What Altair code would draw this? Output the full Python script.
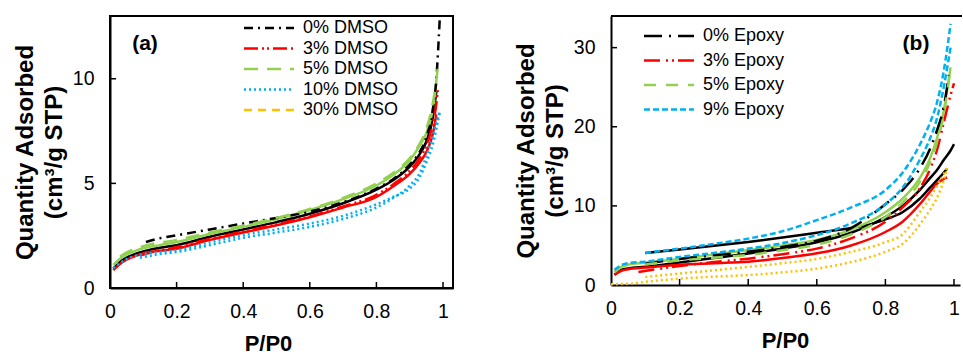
import altair as alt
import pandas as pd

FONT = "Liberation Sans"

# ---------------- Panel (a): DMSO ----------------
series_a = ["0% DMSO", "3% DMSO", "5% DMSO", "10% DMSO", "30% DMSO"]
colors_a = ["#000000", "#FF0000", "#92D050", "#00B0F0", "#FFC000"]
dashes_a = [[9, 5, 2, 5], [14, 4, 2, 3, 2, 4], [14, 9], [2, 3], [8, 6]]

ads_x_a = [0.01, 0.03, 0.05, 0.08, 0.1, 0.15, 0.2, 0.3, 0.4, 0.5, 0.6, 0.7, 0.8, 0.85, 0.9, 0.93, 0.95, 0.97, 0.98]
a0_ads = [0.93, 1.25, 1.45, 1.65, 1.75, 1.92, 2.05, 2.45, 2.8, 3.15, 3.55, 4.05, 4.7, 5.15, 5.8, 6.4, 7.0, 8.2, 9.4]
a3_ads = [0.85, 1.15, 1.35, 1.55, 1.65, 1.78, 1.88, 2.3, 2.65, 3.0, 3.38, 3.85, 4.35, 4.85, 5.45, 6.0, 6.5, 7.4, 8.3]
a5_ads = [1.1, 1.4, 1.6, 1.8, 1.9, 2.05, 2.2, 2.58, 2.92, 3.3, 3.73, 4.25, 4.9, 5.4, 6.1, 6.8, 7.4, 8.6, 9.8]
a10_ads_x = ads_x_a + [0.99]
a10_ads = [0.95, 1.2, 1.38, 1.55, 1.62, 1.72, 1.8, 2.18, 2.53, 2.8, 3.08, 3.45, 4.0, 4.35, 4.75, 5.3, 6.0, 6.9, 7.6, 8.4]

a0_des_x = [0.108, 0.15, 0.2, 0.3, 0.4, 0.5, 0.6, 0.7, 0.8, 0.85, 0.9, 0.93, 0.95, 0.97, 0.98, 0.99]
a0_des = [2.2, 2.38, 2.52, 2.8, 3.08, 3.35, 3.65, 4.1, 4.75, 5.2, 5.9, 6.5, 7.2, 8.6, 10.0, 12.8]
a3_des_x = [0.09, 0.15, 0.2, 0.3, 0.4, 0.5, 0.6, 0.7, 0.8, 0.85, 0.9, 0.93, 0.95, 0.97, 0.98, 0.985]
a3_des = [1.55, 1.8, 1.95, 2.35, 2.7, 3.05, 3.42, 3.9, 4.45, 4.95, 5.6, 6.2, 6.8, 7.9, 8.8, 9.6]
a5_des_x = [0.03, 0.05, 0.1, 0.2, 0.3, 0.4, 0.5, 0.6, 0.7, 0.8, 0.85, 0.9, 0.93, 0.95, 0.97, 0.98, 0.985]
a5_des = [1.5, 1.7, 2.0, 2.3, 2.65, 2.98, 3.35, 3.78, 4.3, 5.0, 5.5, 6.2, 6.9, 7.6, 8.9, 9.9, 10.7]
a10_des_x = [0.09, 0.15, 0.2, 0.3, 0.4, 0.5, 0.6, 0.7, 0.8, 0.85, 0.9, 0.93, 0.95, 0.97, 0.98, 0.99]
a10_des = [1.45, 1.62, 1.72, 2.05, 2.4, 2.65, 2.92, 3.3, 3.85, 4.3, 4.9, 5.5, 6.3, 7.3, 7.9, 8.4]

# ---------------- Panel (b): Epoxy ----------------
series_b = ["0% Epoxy", "3% Epoxy", "5% Epoxy", "9% Epoxy"]
colors_b = ["#000000", "#FF0000", "#92D050", "#00B0F0"]
dashes_b = [[18, 7, 2, 7], [16, 6, 2, 4, 2, 4], [12, 10], [6, 3]]
orange_b = "#FFC000"

b0_a_x = [0.1, 0.2, 0.3, 0.4, 0.5, 0.6, 0.7, 0.75, 0.8, 0.85, 0.9, 0.93, 0.96, 0.98]
b0_a = [4.05, 4.5, 4.95, 5.44, 6.0, 6.6, 7.2, 7.6, 8.3, 9.2, 10.9, 12.3, 13.7, 14.7]
b0_b_x = [0.01, 0.03, 0.05, 0.1, 0.2, 0.3, 0.4, 0.5, 0.6, 0.7, 0.8, 0.85, 0.9, 0.93, 0.95, 0.97, 0.99, 1.0]
b0_b = [1.3, 1.9, 2.1, 2.3, 2.85, 3.4, 3.97, 4.6, 5.4, 6.6, 8.6, 10.0, 12.0, 13.5, 14.5, 15.8, 17.0, 17.8]
b0_c_x = [0.1, 0.2, 0.3, 0.4, 0.5, 0.6, 0.7, 0.8, 0.85, 0.9, 0.93, 0.95, 0.97, 0.985]
b0_c = [2.7, 3.3, 3.75, 4.2, 4.8, 5.6, 7.2, 10.2, 12.0, 14.7, 17.2, 19.5, 22.5, 26.5]

b3_ads_x = [0.01, 0.03, 0.05, 0.1, 0.2, 0.3, 0.4, 0.5, 0.6, 0.7, 0.8, 0.85, 0.9, 0.93, 0.95, 0.97, 0.98]
b3_ads = [1.3, 1.8, 2.0, 2.2, 2.55, 2.75, 2.95, 3.4, 4.0, 5.0, 6.7, 8.0, 10.2, 11.8, 12.8, 13.4, 13.6]
b3_des_x = [0.08, 0.15, 0.2, 0.3, 0.4, 0.5, 0.6, 0.7, 0.8, 0.85, 0.9, 0.93, 0.95, 0.97, 0.99, 1.0]
b3_des = [1.65, 2.1, 2.4, 2.9, 3.33, 3.9, 4.6, 5.9, 8.0, 9.8, 12.2, 14.6, 17.0, 20.5, 24.0, 25.5]

b5_ads_x = [0.01, 0.03, 0.05, 0.1, 0.2, 0.3, 0.4, 0.5, 0.6, 0.7, 0.8, 0.85, 0.9, 0.93, 0.95, 0.97, 0.99]
b5_ads = [1.6, 2.3, 2.55, 2.8, 3.3, 3.85, 4.43, 5.0, 5.7, 7.0, 9.2, 10.9, 13.5, 16.0, 18.5, 22.0, 27.5]
b5_des_x = [0.1, 0.2, 0.3, 0.4, 0.5, 0.6, 0.7, 0.8, 0.85, 0.9, 0.93, 0.95, 0.97, 0.99]
b5_des = [2.6, 3.1, 3.45, 3.8, 4.4, 5.1, 6.4, 8.6, 10.4, 13.0, 15.5, 18.0, 21.5, 27.5]

b9_ads_x = [0.01, 0.03, 0.05, 0.1, 0.2, 0.3, 0.4, 0.5, 0.6, 0.7, 0.8, 0.85, 0.9, 0.93, 0.95, 0.97, 0.99]
b9_ads = [1.9, 2.5, 2.75, 2.95, 3.55, 4.05, 4.6, 5.3, 6.3, 7.8, 10.2, 12.3, 15.8, 18.5, 21.0, 25.0, 30.0]
b9_des_x = [0.1, 0.2, 0.3, 0.4, 0.5, 0.6, 0.7, 0.8, 0.85, 0.9, 0.93, 0.95, 0.97, 0.99]
b9_des = [4.05, 4.6, 5.2, 5.86, 6.8, 8.2, 9.8, 12.0, 14.2, 17.7, 20.5, 23.0, 27.0, 33.0]

or_up_x = [0.1, 0.2, 0.3, 0.4, 0.5, 0.6, 0.7, 0.8, 0.85, 0.9, 0.93, 0.95, 0.97, 0.98]
or_up = [1.0, 1.45, 1.85, 2.28, 2.75, 3.3, 4.2, 5.4, 6.4, 9.2, 11.0, 12.5, 14.0, 14.8]
or_lo_x = [0.0, 0.05, 0.1, 0.2, 0.3, 0.4, 0.5, 0.6, 0.7, 0.8, 0.85, 0.9, 0.93, 0.95, 0.97, 0.98]
or_lo = [0.1, 0.15, 0.4, 0.8, 1.05, 1.26, 1.6, 2.07, 2.9, 4.2, 5.2, 7.6, 9.5, 11.0, 13.2, 14.8]

xticks = [0, 0.2, 0.4, 0.6, 0.8, 1]
yticks_a = [0, 5, 10]
yticks_b = [0, 10, 20, 30]


def rows(series, curve, xs, ys, styled):
    return [{"series": series, "curve": curve, "x": a, "y": b, "styled": styled} for a, b in zip(xs, ys)]


dfA = pd.DataFrame(
    rows("0% DMSO", "a0a", ads_x_a, a0_ads, False)
    + rows("0% DMSO", "a0d", a0_des_x, a0_des, True)
    + rows("3% DMSO", "a3a", ads_x_a, a3_ads, False)
    + rows("3% DMSO", "a3d", a3_des_x, a3_des, True)
    + rows("5% DMSO", "a5a", ads_x_a, a5_ads, False)
    + rows("5% DMSO", "a5d", a5_des_x, a5_des, True)
    + rows("10% DMSO", "a10a", a10_ads_x, a10_ads, True)
    + rows("10% DMSO", "a10d", a10_des_x, a10_des, True)
)

dfB = pd.DataFrame(
    rows("0% Epoxy", "b0a", b0_a_x, b0_a, False)
    + rows("0% Epoxy", "b0b", b0_b_x, b0_b, False)
    + rows("0% Epoxy", "b0c", b0_c_x, b0_c, True)
    + rows("3% Epoxy", "b3a", b3_ads_x, b3_ads, False)
    + rows("3% Epoxy", "b3d", b3_des_x, b3_des, True)
    + rows("5% Epoxy", "b5a", b5_ads_x, b5_ads, False)
    + rows("5% Epoxy", "b5d", b5_des_x, b5_des, True)
    + rows("9% Epoxy", "b9a", b9_ads_x, b9_ads, True)
    + rows("9% Epoxy", "b9d", b9_des_x, b9_des, True)
)
dfO = pd.DataFrame(rows("orange", "ou", or_up_x, or_up, True) + rows("orange", "ol", or_lo_x, or_lo, True))

YTITLE = ["Quantity Adsorbed", "(cm³/g STP)"]
LW = 2.5


def make_panel(df, W, H, xdom, ydom, yticks, series, colors, dashes, leg_x, leg_y, row_pad, lab_off,
               label, lab_x, xtitle_x, frame, extra=None):
    xax = alt.Axis(values=xticks, format="~g", title="P/P0", labelPadding=23, labelBaseline="middle",
                   titleX=xtitle_x, titleY=55, titleBaseline="middle", titleFontSize=22,
                   labelFlush=False)
    yax = alt.Axis(values=yticks, format="d", title=YTITLE, labelPadding=16, titlePadding=6,
                   titleLineHeight=29, labelFlush=False)
    xs = alt.Scale(domain=xdom, nice=False, zero=False)
    ys = alt.Scale(domain=ydom, nice=False, zero=False)
    cs = alt.Scale(domain=series, range=colors)
    ds = alt.Scale(domain=series, range=dashes)
    leg = alt.Legend(title=None, orient="none", legendX=leg_x, legendY=leg_y, symbolType="M-5,0H5",
                     symbolSize=100, symbolStrokeWidth=LW, labelFontSize=18, labelFont=FONT,
                     labelColor="black", rowPadding=row_pad, labelOffset=lab_off, labelLimit=0,
                     padding=0)
    X = alt.X("x:Q", scale=xs, axis=xax)
    Y = alt.Y("y:Q", scale=ys, axis=yax)
    base = alt.Chart(df)
    solid = base.transform_filter("!datum.styled").mark_line(strokeWidth=LW, interpolate="monotone").encode(
        x=X, y=Y, color=alt.Color("series:N", scale=cs, legend=leg), detail="curve:N")
    styled = base.transform_filter("datum.styled").mark_line(strokeWidth=LW, interpolate="monotone").encode(
        x=X, y=Y, color=alt.Color("series:N", scale=cs, legend=leg),
        strokeDash=alt.StrokeDash("series:N", scale=ds, legend=leg), detail="curve:N")
    layers = [solid, styled]
    if extra is not None:
        layers.append(alt.Chart(extra).mark_line(strokeWidth=LW, interpolate="monotone", color=orange_b,
                                                  strokeDash=[2, 3]).encode(x=X, y=Y, detail="curve:N"))
    xt = alt.Chart(pd.DataFrame({"x": xticks[1:]})).mark_rule(color="black", strokeWidth=1.5).encode(
        x=X, y=alt.value(H), y2=alt.value(H - 6))
    yt = alt.Chart(pd.DataFrame({"y": yticks[1:]})).mark_rule(color="black", strokeWidth=1.5).encode(
        y=Y, x=alt.value(0), x2=alt.value(6))
    lab = alt.Chart(pd.DataFrame({"t": [label]})).mark_text(font=FONT, fontSize=21, fontWeight="bold",
                                                            color="black").encode(
        x=alt.value(lab_x), y=alt.value(28), text="t:N")
    layers += [xt, yt, lab]
    if not frame:
        top = alt.Chart(pd.DataFrame({"t": [0]})).mark_rule(color="black", strokeWidth=2).encode(
            x=alt.value(0), x2=alt.value(W + 2), y=alt.value(0))
        layers.append(top)
    ch = alt.layer(*layers).properties(width=W, height=H)
    if not frame:
        ch = ch.properties(view=alt.ViewBackground(strokeWidth=0, stroke="transparent"))
    return ch


left = make_panel(dfA, 343, 272, [0, 1.03], [0, 13], yticks_a, series_a, colors_a, dashes_a,
                  150, 3, 2.5, 25, "(a)", 35, 158, True)
right = make_panel(dfB, 349, 269, [0, 1.0175], [0, 34], yticks_b, series_b, colors_b, dashes_b,
                   49, 11, 6.5, 25, "(b)", 305, 174, False, extra=dfO)

chart = alt.hconcat(left, right, spacing=60).resolve_scale(
    color="independent", strokeDash="independent"
).properties(
    padding={"left": 12, "top": 14, "right": 0, "bottom": 0},
    background="white",
).configure_view(stroke="black", strokeWidth=2).configure_axis(
    domainColor="black", domainWidth=2, grid=False, ticks=False, tickSize=0,
    labelFont=FONT, labelFontSize=19.5, labelColor="black",
    titleFont=FONT, titleFontSize=24, titleFontWeight="bold", titleColor="black",
)

chart.save("out.html", embed_options={"renderer": "svg", "actions": False})
